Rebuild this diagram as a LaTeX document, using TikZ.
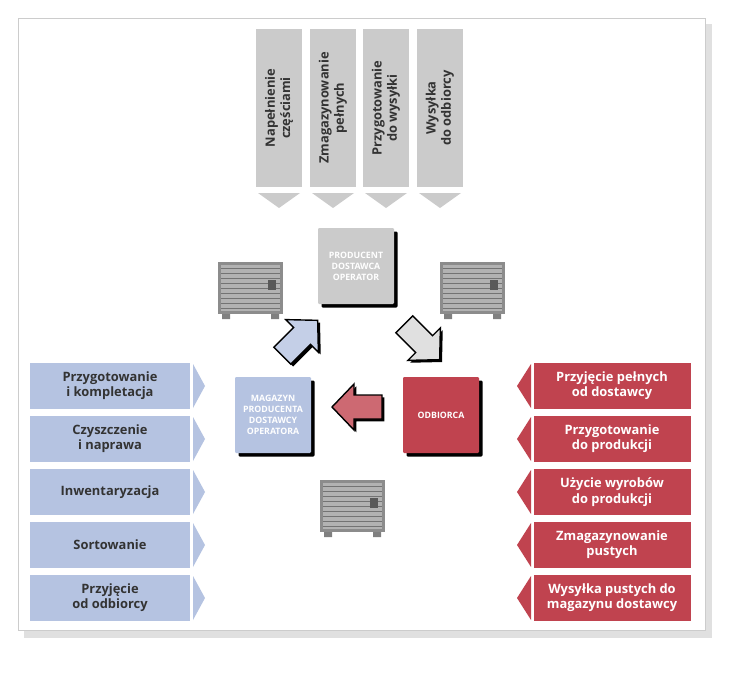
\documentclass[tikz,border=0pt]{standalone}
\usepackage{fontspec}
\setmainfont{Open Sans}
\usetikzlibrary{shadows}
\definecolor{lblue}{HTML}{B5C3E1}
\definecolor{dred}{HTML}{C0434F}
\definecolor{lgray}{HTML}{CBCBCB}
\begin{document}
\begin{tikzpicture}%
	[x=0.03cm, y=-0.03cm,
	leftbox/.style={fill=lblue, minimum width=160*0.03cm, minimum height=46*0.03cm, align=center, font=\bfseries\fontsize{11}{13}\selectfont, text=black!80},
	rightbox/.style={fill=dred, minimum width=157*0.03cm, minimum height=46*0.03cm, align=center, font=\bfseries\fontsize{11}{13}\selectfont, text=white},
	topbar/.style={fill=lgray, minimum width=157*0.03cm, minimum height=46*0.03cm, rotate=90, align=center, font=\bfseries\fontsize{11}{13}\selectfont, text=black!80},
	centerbox/.style={minimum size=76*0.03cm, align=center, font=\bfseries\fontsize{7.5}{9.5}\selectfont, text=white, rounded corners=1pt, drop shadow={shadow xshift=3pt, shadow yshift=-3pt, fill=black, opacity=1}},
	fatarrow/.style={draw=black, line width=1.2pt, line join=miter, drop shadow={shadow xshift=2pt, shadow yshift=-2pt, fill=black, opacity=1}}]
%
% frame of the page
\useasboundingbox (0,0) rectangle (750,675);
\fill[black!12] (24,24) rectangle (712,638);
\fill[white, draw=black!20] (18,18) rectangle (705,630);
%
% crates
\newcommand{\crate}[2]{%
	\begin{scope}[shift={(#1,#2)}]
		\fill[black!45] (0,0) rectangle (65,52);
		\fill[black!30] (3,3) rectangle (62,49);
		\foreach \k in {6,11,...,46}
			\draw[black!55, thin] (3,\k) -- (62,\k);
		\fill[black!65] (50,18) rectangle (58,28);
		\fill[black!50] (4,52) rectangle (12,57) (53,52) rectangle (61,57);
	\end{scope}}
\crate{218}{262}
\crate{440}{262}
\crate{320}{480}
%
% fat arrow, pointing along +x from its centre
\newcommand{\fatarrow}[4]{%
	\begin{scope}[shift={(#1,#2)}, rotate=#3]
		\filldraw[fatarrow, fill=#4] (-25,-12) -- (3,-12) -- (3,-23) -- (25,0) -- (3,23) -- (3,12) -- (-25,12) -- cycle;
	\end{scope}}
%
% top bars
\foreach \x/\t [count=\i] in {279/{Napełnienie\\częściami}, 333/{Zmagazynowanie\\pełnych}, 386/{Przygotowanie\\do wysyłki}, 440/{Wysyłka\\do odbiorcy}}{
	\node[topbar] (top\i) at (\x,108) {\t};
	\fill[lgray] (\x-21,193) -- (\x+21,193) -- (\x,208) -- cycle;
}
%
% center boxes
\node[centerbox, fill=lgray] (prod) at (356,266) {PRODUCENT\\DOSTAWCA\\OPERATOR};
\node[centerbox, fill=lblue] (mag) at (273,415) {MAGAZYN\\PRODUCENTA\\DOSTAWCY\\OPERATORA};
\node[centerbox, fill=dred] (odb) at (441,415) {ODBIORCA};
%
% arrows between the boxes
\fatarrow{300}{338}{45}{lblue!80}
\fatarrow{422}{342}{-45}{black!12}
\fatarrow{357}{407}{180}{dred!80}
%
% left list
\foreach \y/\t [count=\i] in {386/{Przygotowanie\\i kompletacja}, 439/{Czyszczenie\\i naprawa}, 492/{Inwentaryzacja}, 545/{Sortowanie}, 598/{Przyjęcie\\od odbiorcy}}{
	\node[leftbox] (left\i) at (110,\y) {\t};
	\fill[lblue] (193,\y-22) -- (205,\y) -- (193,\y+22) -- cycle;
}
%
% right list
\foreach \y/\t [count=\i] in {386/{Przyjęcie pełnych\\od dostawcy}, 439/{Przygotowanie\\do produkcji}, 492/{Użycie wyrobów\\do produkcji}, 545/{Zmagazynowanie\\pustych}, 598/{Wysyłka pustych do\\magazynu dostawcy}}{
	\node[rightbox] (right\i) at (612,\y) {\t};
	\fill[dred] (531,\y-22) -- (517,\y) -- (531,\y+22) -- cycle;
}
\end{tikzpicture}
\end{document}
